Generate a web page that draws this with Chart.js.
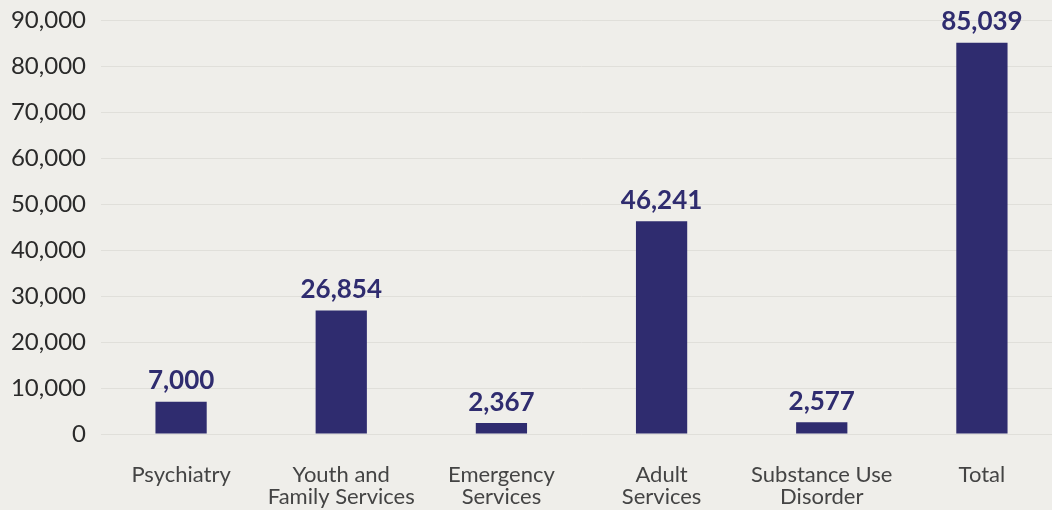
<!DOCTYPE html>
<html lang="en">
<head>
    <meta charset="UTF-8">
    <title>Services Chart</title>
    <script src="https://cdn.jsdelivr.net/npm/chart.js"></script>
    <style>
        body { margin: 0; background: #efeeea; overflow: hidden; }
        #chart { display: block; }
    </style>
</head>
<body>
    <canvas id="chart" width="1062" height="510"></canvas>

    <script>
        // data
        var categories = ['Psychiatry', ['Youth and', 'Family Services'], ['Emergency', 'Services'], ['Adult', 'Services'], ['Substance Use', 'Disorder'], 'Total'];
        var values = [7000, 26854, 2367, 46241, 2577, 85039];
        var yTicks = [0, 10000, 20000, 30000, 40000, 50000, 60000, 70000, 80000, 90000];

        var navy = '#2f2c6f';
        var fontFamily = 'Lato, "Open Sans", sans-serif';

        // draws the number above each bar
        var valueLabels = {
            id: 'valueLabels',
            afterDatasetsDraw: function(chart) {
                var ctx = chart.ctx;
                var meta = chart.getDatasetMeta(0);
                ctx.save();
                ctx.fillStyle = navy;
                ctx.font = 'bold 26px ' + fontFamily;
                ctx.textAlign = 'center';
                ctx.textBaseline = 'bottom';
                meta.data.forEach(function(bar, i) {
                    ctx.fillText(values[i].toLocaleString('en-US'), bar.x, bar.y - 8);
                });
                ctx.restore();
            }
        };

        var ctx = document.getElementById('chart');
        var chart = new Chart(ctx, {
            type: 'bar',
            data: {
                labels: categories,
                datasets: [{
                    data: values,
                    backgroundColor: navy,
                    barPercentage: 0.32,
                    categoryPercentage: 1
                }]
            },
            options: {
                responsive: false,
                animation: false,
                layout: { padding: { top: 20, right: 0, left: 0, bottom: 0 } },
                plugins: {
                    legend: { display: false },
                    tooltip: { enabled: false }
                },
                scales: {
                    x: {
                        grid: { display: false, drawTicks: false },
                        border: { display: false },
                        ticks: {
                            color: '#444444',
                            font: { family: fontFamily, size: 22, lineHeight: 1.0 },
                            padding: 30,
                            maxRotation: 0
                        },
                        afterFit: function(scale) {
                            scale.height = 76;
                            scale.paddingLeft = 0;
                            scale.paddingRight = 0;
                        }
                    },
                    y: {
                        min: 0,
                        max: 90000,
                        afterBuildTicks: function(scale) {
                            scale.ticks = yTicks.map(function(v) { return { value: v }; });
                        },
                        grid: { color: '#e0dfda', lineWidth: 1, drawTicks: false },
                        border: { display: false },
                        ticks: {
                            color: '#2a2a2a',
                            font: { family: fontFamily, size: 24 },
                            padding: 15,
                            callback: function(v) { return v.toLocaleString('en-US'); }
                        },
                        afterFit: function(scale) {
                            scale.width = 101;
                            scale.paddingTop = 0;
                            scale.paddingBottom = 0;
                        }
                    }
                }
            },
            plugins: [valueLabels]
        });
    </script>
</body>
</html>
